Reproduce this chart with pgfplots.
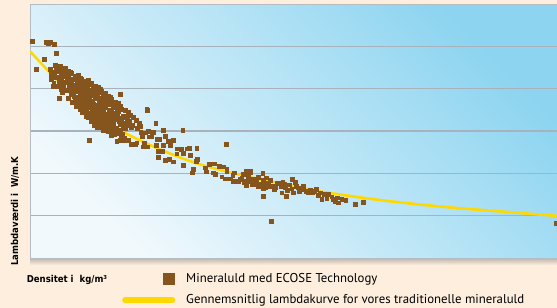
\documentclass[border=0pt]{standalone}
\usepackage{pgfplots}
\pgfplotsset{compat=1.18}
\usepackage{fontspec}
\setmainfont{PT Sans}
\newfontfamily\labfont{DejaVu Sans Condensed Bold}
\definecolor{peach}{RGB}{253,238,222}
\definecolor{brownc}{RGB}{134,85,30}
\definecolor{yellowc}{RGB}{255,216,0}
\definecolor{gridc}{RGB}{168,178,188}
\definecolor{framec}{RGB}{180,188,196}
\definecolor{bgtop}{RGB}{140,212,240}
\definecolor{bgbot}{RGB}{242,249,253}
\definecolor{shadowc}{RGB}{190,180,170}

\pgfplotstableread{
x y
32 -42
46 -43
48 -43.5
50 -43
54 -45
56 -54
44 -60
36 -70
50 -70
52 -73
56 -68
57 -72
61 -71
66 -72
51 -75
53 -78
51 -80
53 -87
59 -99
68 -99
55 -66
56.2 -70
54.2 -75
55.5 -78
53.7 -84
58.4 -69
57.1 -72
57.5 -78
58.7 -82
56.7 -87
60.5 -67
58.7 -72
60.9 -76
59.6 -79
60 -85
61.2 -90
61.7 -70
63 -73
61.2 -79
63.4 -84
62.1 -88
65 -69
66.2 -74
64.2 -77
65.5 -83
63.7 -87
68.4 -72
67.1 -78
67.5 -82
68.7 -87
66.7 -91
70.5 -73
68.7 -77
70.9 -80
69.6 -86
70 -91
71.2 -95
71.7 -74
73 -80
71.2 -85
73.4 -89
72.1 -94
73.7 -97
75 -77
76.2 -80
74.2 -86
75.5 -90
73.7 -95
75.9 -99
74.6 -102
78.4 -76
77.1 -80
77.5 -85
78.7 -89
76.7 -92
78 -98
76.3 -103
77.9 -107
80.5 -79
78.7 -84
80.9 -88
79.6 -93
80 -96
81.2 -102
79.2 -106
80.5 -110
81.7 -80
83 -85
81.2 -88
83.4 -94
82.1 -98
83.7 -103
82 -107
82.9 -110
85 -82
86.2 -86
84.2 -89
85.5 -95
83.7 -100
85.9 -104
84.6 -109
85 -112
88.4 -81
87.1 -87
87.5 -91
88.7 -96
86.7 -100
88 -103
86.3 -109
87.9 -114
88.4 -118
90.5 -85
88.7 -91
90.9 -96
89.6 -100
90 -105
91.2 -108
89.2 -114
90.5 -118
91.7 -84
93 -88
91.2 -93
93.4 -96
92.1 -102
93.7 -106
92 -111
92.9 -115
91.5 -118
92.5 -122
95 -87
96.2 -92
94.2 -96
95.5 -99
93.7 -105
95.9 -110
94.6 -114
95 -119
96.2 -122
98.4 -88
97.1 -91
97.5 -97
98.7 -101
96.7 -106
98 -110
96.3 -113
97.9 -119
98.4 -124
100.5 -90
98.7 -93
100.9 -99
99.6 -104
100 -108
101.2 -113
99.2 -116
100.5 -122
100.9 -126
101.7 -92
103 -96
101.2 -101
103.4 -105
102.1 -108
103.7 -114
102 -119
102.9 -123
101.5 -128
105 -94
106.2 -99
104.2 -103
105.5 -108
103.7 -111
105.9 -117
104.6 -121
105 -126
106.2 -130
108.4 -97
107.1 -102
107.5 -105
108.7 -111
106.7 -115
108 -120
106.3 -124
107.9 -127
108.4 -132
110.5 -98
108.7 -102
110.9 -105
109.6 -111
110 -116
111.2 -120
109.2 -125
110.5 -128
110.9 -132
111.7 -100
113 -106
111.2 -111
113.4 -118
112.1 -123
113.7 -129
115 -103
116.2 -108
114.2 -114
115.5 -120
113.7 -125
115.9 -131
114.6 -135
118.4 -104
117.1 -111
117.5 -117
118.7 -122
116.7 -129
118 -134
120.5 -107
118.7 -112
120.9 -119
119.6 -125
120 -131
121.2 -137
121.7 -110
123 -117
121.2 -122
123.4 -128
122.1 -135
125 -111
126.2 -118
124.2 -124
125.5 -129
124.7 -139
128.4 -113
127.1 -120
127.5 -126
128.7 -141
130.5 -116
129.2 -122
130.9 -128
133.4 -118
132.5 -126
136 -121
137 -129
139.3 -124
72 -103
76 -107
82 -113
86 -117
91 -122
94 -126
97 -128
103 -131
111 -136
62 -93
120 -95
147 -110.7
146.7 -109.3
155.7 -123.7
182.7 -131
163.3 -131
153 -132.7
165 -136.7
159.3 -140
168.3 -141.7
173.3 -140.7
156 -146
163.3 -146
170 -146
162.3 -151.7
158.3 -151.7
177.3 -149.3
181.7 -150
187.3 -149.3
176.7 -154.3
183.3 -154
158.3 -157.7
165 -160.7
169.3 -160
173.3 -162.3
144 -143.3
147.3 -147.3
142.7 -147.3
130.7 -144.7
136.7 -143.3
142 -136.7
149.3 -137.3
145 -133.3
140.7 -132.7
125 -140.7
120 -140.7
116.7 -141.7
89 -140.7
140 -126.7
148.3 -131.7
151.7 -136.7
156.7 -140
135 -145
226 -145
181 -150
189.3 -149
196.7 -149
182.7 -154
190 -156
197.3 -160
196 -162
183.3 -166
193.3 -170
192 -173.3
205 -168.3
206 -172.3
209.3 -165
214 -164.3
219.3 -166.7
223.3 -167.3
226.7 -169.3
226.7 -172
213.3 -173.3
215 -175
221.7 -177.3
225 -179.3
230 -179.3
232.7 -176
234 -173.3
233.3 -181.7
238.3 -181.7
241.7 -178.3
243.3 -175
246 -171.7
250 -171.7
248.3 -176.7
245 -181.7
250 -181.7
251.7 -182.7
254 -179.3
256.7 -183.3
260 -185
262.7 -174
263.3 -180.7
266 -178.3
267.3 -183.3
269.3 -186.7
263.3 -189.3
258.3 -187.3
263.3 -196.7
240 -180
244 -183
248 -178
252 -185
256 -181
246 -186
250.7 -172.7
266.7 -178.3
253.3 -180
256.7 -185
263.3 -185
265 -188.3
268.3 -184
270 -187.3
272.7 -186.7
275 -188.3
276.7 -184
279.3 -183.3
282.7 -182.7
284.3 -185
280.7 -187.3
281.7 -193.3
286 -196.7
287.3 -190.7
289.3 -185.3
292 -180
291.7 -189.3
293.3 -193.3
296 -186.7
298.3 -188.3
299.3 -191.7
301.7 -190
306 -191.7
308.3 -193.3
310 -190.7
314 -191.7
312.7 -193.3
320 -193.3
321.7 -200
324 -195
326.7 -199.3
328.3 -195
331.7 -197.3
332.7 -200
337.3 -198.3
338.3 -203.3
341.7 -200
345.7 -200.7
355 -205
363.3 -202.7
258 -178
270 -181
274 -190
285 -188
295 -183
303 -187
318 -196
335 -202
316 -190
271 -221.7
556 -224
}\scatterdata

\pgfplotstableread{
x y
30 -52
45 -68
60 -84
75 -98
90 -111
105 -122
120 -131
140 -141
160 -150
180 -158
200 -165
230 -173
260 -180
290 -186
320 -192
360 -198
400 -203
450 -208
500 -212
557 -216.5
}\curvedata

\begin{document}
\begin{tikzpicture}
\useasboundingbox (0,0) rectangle (557bp,308bp);
\fill[peach] (0,0) rectangle (557bp,308bp);
\shade[top color=shadowc, bottom color=peach] (30bp,43bp) rectangle (557bp,50bp);
\begin{axis}[
  at={(30bp,50bp)}, anchor=south west,
  width=527bp, height=253.6bp, scale only axis,
  xmin=30, xmax=557, ymin=-258.6, ymax=-5,
  xtick=\empty,
  ytick={-47,-89.3,-131.6,-174,-216.3}, yticklabels={},
  major tick length=0pt,
  ymajorgrids,
  major grid style={draw=gridc, line width=1.2bp},
  axis line style={draw=framec, line width=0.8bp},
  axis background/.style={top color=bgtop, bottom color=bgbot, shading angle=-45},
  reverse legend,
  legend style={draw=none, fill=none, at={(axis description cs:0.1746,-0.052)}, anchor=north west,
    font=\fontsize{12.8bp}{15bp}\selectfont, row sep=6.5bp, inner sep=0pt},
  legend cell align=left,
]
\addplot[yellowc, line width=2.6bp, smooth, tension=0.5,
  legend image code/.code={\path[draw=none] (0bp,0) -- (62bp,0); \draw[yellowc, line width=6bp, line cap=round] (3bp,0) -- (50bp,0);}]
  table[x=x, y=y] {\curvedata};
\addlegendentry{Gennemsnitlig lambdakurve for vores traditionelle mineraluld}
\addplot[color=brownc, only marks, mark=square*, mark size=1.9bp, mark options={draw=brownc, fill=brownc, line width=0.3bp},
  legend image code/.code={\path[draw=none] (0bp,0) -- (62bp,0); \fill[brownc, draw=none] (41bp,-6bp) rectangle (53bp,6bp);}]
  table[x=x, y=y] {\scatterdata};
\addlegendentry{Mineraluld med ECOSE Technology}
\end{axis}
\node[rotate=90, font=\labfont\fontsize{9.5bp}{11bp}\selectfont] at (15bp,97bp) {Lambdaværdi i\ \ W/m.K};
\node[anchor=base west, inner sep=0pt, font=\labfont\fontsize{9.5bp}{11bp}\selectfont] at (26.6bp,26bp) {Densitet i\ \ kg/m³};
\end{tikzpicture}
\end{document}
